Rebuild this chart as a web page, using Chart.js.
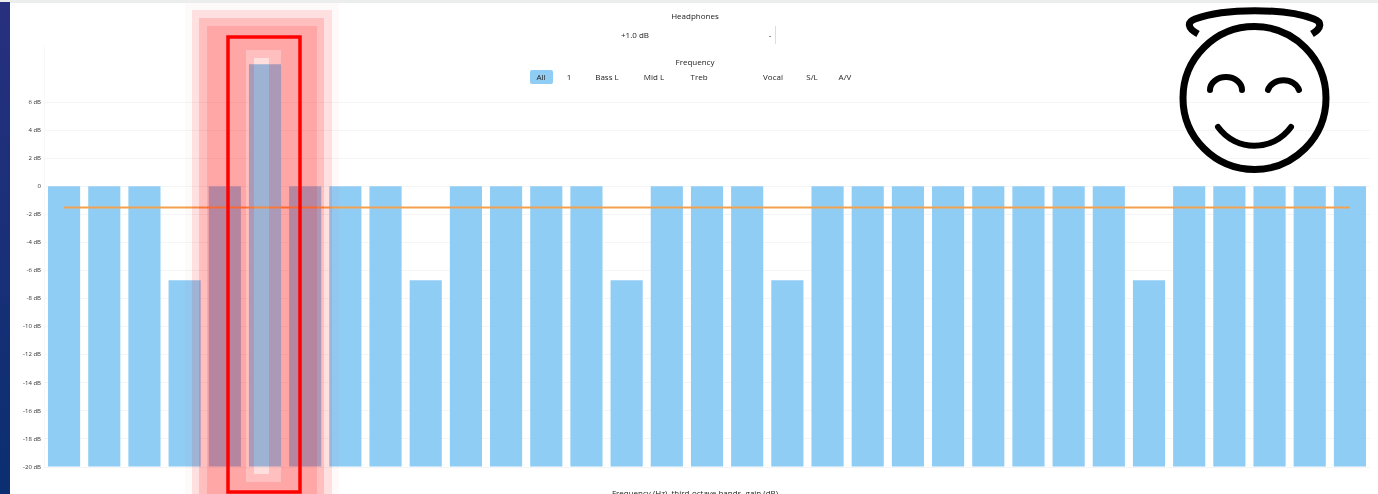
<!DOCTYPE html>
<html>
<head>
<meta charset="utf-8">
<title>Equalizer</title>
<script src="https://cdn.jsdelivr.net/npm/chart.js@4"></script>
<style>
  html, body { margin: 0; padding: 0; background: #fff; overflow: hidden; }
  #page { position: relative; width: 1378px; height: 494px; overflow: hidden; font-family: "Open Sans", sans-serif; color: #222; }
  #topbar { position: absolute; left: 0; top: 0; width: 1378px; height: 3px; background: #eceeee; }
  #sidebar { position: absolute; left: 0; top: 2px; width: 10px; height: 492px; background: linear-gradient(#27307f, #0b2f70); }
  #eq { position: absolute; left: 0; top: 0; filter: blur(0.7px); }
  .txt { position: absolute; font-size: 8px; line-height: 10px; white-space: nowrap; transform: translateX(-50%); filter: blur(0.7px); }
  #allBtn { position: absolute; left: 530px; top: 70px; width: 23px; height: 14px; border-radius: 2px; background: #90cdf4; filter: blur(0.6px); }
  #cursor { position: absolute; left: 775px; top: 26px; width: 1px; height: 18px; background: #ddd; }
  svg { position: absolute; left: 0; top: 0; }
</style>
</head>
<body>
<div id="page">
  <div id="topbar"></div>
  <div id="sidebar"></div>
  <canvas id="eq" width="1378" height="494"></canvas>

  <div class="txt" style="left:695px;top:11px">Headphones</div>
  <div class="txt" style="left:635px;top:30px">+1.0 dB</div>
  <div class="txt" style="left:770px;top:30px">-</div>
  <div id="cursor"></div>
  <div class="txt" style="left:695px;top:57px">Frequency</div>
  <div id="allBtn"></div>
  <div class="txt" style="left:541px;top:72px">All</div>
  <div class="txt" style="left:569px;top:72px">1</div>
  <div class="txt" style="left:607px;top:72px">Bass L</div>
  <div class="txt" style="left:654px;top:72px">Mid L</div>
  <div class="txt" style="left:699px;top:72px">Treb</div>
  <div class="txt" style="left:773px;top:72px">Vocal</div>
  <div class="txt" style="left:812px;top:72px">S/L</div>
  <div class="txt" style="left:845px;top:72px">A/V</div>
  <div class="txt" style="left:695px;top:488px">Frequency (Hz), third-octave bands, gain (dB)</div>

  <svg id="mark" width="1378" height="494"></svg>

  <svg width="1378" height="494" fill="none" stroke="#000" stroke-linecap="round">
    <circle cx="1254.5" cy="98" r="71.5" stroke-width="7"/>
    <path d="M1198 34 C1187 28 1187 22 1195 19 C1225 8 1285 8 1314 19 C1322 22 1322 28 1312 34" stroke-width="7" stroke-linecap="butt"/>
    <path d="M1210 90 A16 13 0 0 1 1242 90" stroke-width="6"/>
    <path d="M1268 90 A16 13 0 0 1 1299 90" stroke-width="6"/>
    <path d="M1218 127 C1236 152 1273 152 1291 127" stroke-width="6"/>
  </svg>
</div>

<script>
// third-octave bands
const bands = ["12.5","16","20","25","31.5","40","50","63","80","100","125","160","200","250","315","400","500",
  "630","800","1k","1.25k","1.6k","2k","2.5k","3.15k","4k","5k","6.3k","8k","10k","12.5k","16k","20k"];

const gains = [0, 0, 0, -6.7, 0, 8.7, 0, 0, 0, -6.7, 0, 0, 0, 0, -6.7, 0, 0,
  0, -6.7, 0, 0, 0, 0, 0, 0, 0, 0, -6.7, 0, 0, 0, 0, 0];

const average = [-1.5, -1.5, -1.5, -1.5, -1.5, -1.5, -1.5, -1.5, -1.5, -1.5, -1.5, -1.5, -1.5, -1.5, -1.5, -1.5, -1.5,
  -1.5, -1.5, -1.5, -1.5, -1.5, -1.5, -1.5, -1.5, -1.5, -1.5, -1.5, -1.5, -1.5, -1.5, -1.5, -1.5];

const yMin = -20;
const yMax = 10;
const topTick = 6;

new Chart(document.getElementById("eq"), {
  type: "bar",
  data: {
    labels: bands,
    datasets: [
      {
        type: "line",
        data: average,
        borderColor: "#f4a14f",
        borderWidth: 2,
        pointRadius: 0,
        order: 1
      },
      {
        data: gains,
        base: yMin,
        backgroundColor: "#90cdf4",
        barPercentage: 0.8,
        categoryPercentage: 1,
        order: 2
      }
    ]
  },
  options: {
    responsive: false,
    animation: false,
    layout: { padding: { top: 46, right: 8, bottom: 27 } },
    plugins: { legend: { display: false }, tooltip: { enabled: false } },
    scales: {
      x: { display: false },
      y: {
        min: yMin,
        max: yMax,
        afterFit: s => { s.width = 44; },
        afterBuildTicks: s => { s.ticks = s.ticks.filter(t => t.value <= topTick); },
        ticks: {
          stepSize: 2,
          font: { size: 6, family: "Open Sans" },
          color: "#333",
          padding: 3,
          callback: v => v === 0 ? "0" : v + " dB"
        },
        grid: { color: "rgba(0,0,0,0.04)", drawTicks: false },
        border: { color: "rgba(0,0,0,0.03)" }
      }
    }
  }
});

// red highlight round the odd band, stepped glow with a paler centre
const glow = [
  [185, 3, 339, 520, 0.02],
  [192, 10, 332, 520, 0.12],
  [199, 18, 324, 520, 0.25],
  [207, 26, 317, 520, 0.35],
  [246, 50, 281, 482, 0.25],
  [254, 58, 269, 474, 0.13]
];
const NS = "http://www.w3.org/2000/svg";
const mark = document.getElementById("mark");
const box = r => `M${r[0]} ${r[1]}H${r[2]}V${r[3]}H${r[0]}Z`;
glow.forEach((r, i) => {
  const p = document.createElementNS(NS, "path");
  p.setAttribute("d", box(r) + (glow[i + 1] ? box(glow[i + 1]) : ""));
  p.setAttribute("fill", "#ff0000");
  p.setAttribute("fill-opacity", r[4]);
  p.setAttribute("fill-rule", "evenodd");
  mark.appendChild(p);
});
const frame = document.createElementNS(NS, "rect");
frame.setAttribute("x", 228);
frame.setAttribute("y", 37);
frame.setAttribute("width", 72);
frame.setAttribute("height", 455);
frame.setAttribute("fill", "none");
frame.setAttribute("stroke", "#ff0000");
frame.setAttribute("stroke-width", 3.5);
mark.appendChild(frame);
</script>
</body>
</html>
